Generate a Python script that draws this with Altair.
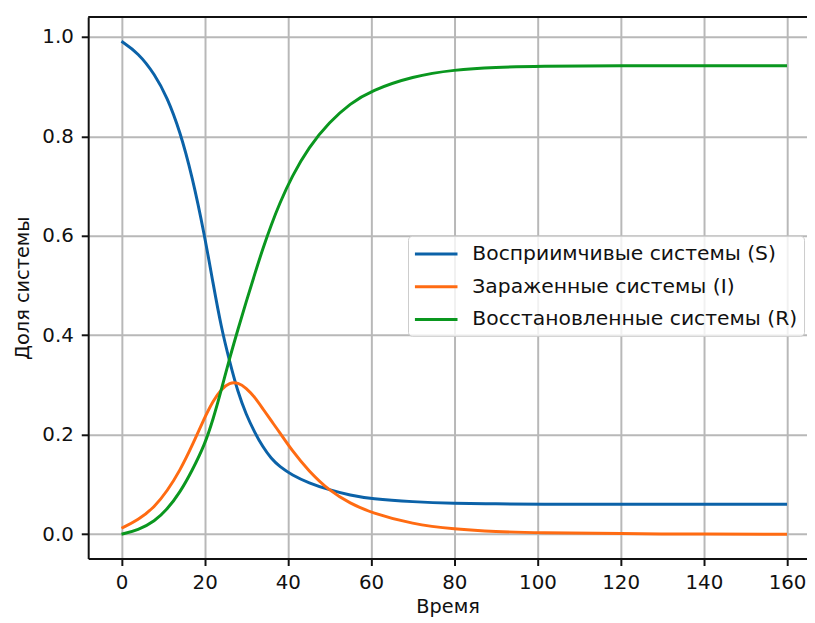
import altair as alt
import pandas as pd

time = [0, 4, 8, 11, 14, 17, 20, 22, 24, 26, 28, 30, 32, 34, 36, 38, 41, 45, 50, 55, 60, 70, 80, 90, 100, 120, 140, 160]
S_vals = [0.991, 0.968, 0.925, 0.878, 0.812, 0.720, 0.600, 0.505, 0.415, 0.347, 0.285, 0.240, 0.205, 0.175,
          0.152, 0.136, 0.119, 0.103, 0.089, 0.078, 0.071, 0.065, 0.062, 0.061, 0.060, 0.060, 0.060, 0.060]
I_vals = [0.012, 0.028, 0.055, 0.087, 0.127, 0.178, 0.235, 0.268, 0.292, 0.305, 0.305, 0.294, 0.276, 0.252,
          0.228, 0.205, 0.168, 0.127, 0.087, 0.062, 0.043, 0.020, 0.010, 0.005, 0.003, 0.001, 0.000, 0.000]
R_vals = [0.000, 0.008, 0.026, 0.050, 0.083, 0.128, 0.180, 0.230, 0.290, 0.354, 0.412, 0.468, 0.522, 0.575,
          0.622, 0.665, 0.720, 0.778, 0.829, 0.866, 0.892, 0.921, 0.934, 0.939, 0.941, 0.942, 0.942, 0.942]

series_names = ["Восприимчивые системы (S)", "Зараженные системы (I)", "Восстановленные системы (R)"]
series_colors = ["#0b62a8", "#ff6b12", "#0a971f"]
x_ticks = [0, 20, 40, 60, 80, 100, 120, 140, 160]
y_ticks = [0.0, 0.2, 0.4, 0.6, 0.8, 1.0]
x_domain = [-8, 164.8]
y_domain = [-0.049, 1.04]

rows = []
for name, vals in zip(series_names, [S_vals, I_vals, R_vals]):
    for t, v in zip(time, vals):
        rows.append({"t": t, "v": v, "series": name})
df = pd.DataFrame(rows)

FONT = "DejaVu Sans"

lines = alt.Chart(df).mark_line(strokeWidth=3, interpolate="basis", clip=True).encode(
    x=alt.X("t:Q", scale=alt.Scale(domain=x_domain, nice=False, zero=False),
            axis=alt.Axis(values=x_ticks, title="Время", format="d")),
    y=alt.Y("v:Q", scale=alt.Scale(domain=y_domain, nice=False, zero=False),
            axis=alt.Axis(values=y_ticks, title="Доля системы", format=".1f")),
    color=alt.Color("series:N",
                    scale=alt.Scale(domain=series_names, range=series_colors),
                    legend=alt.Legend(orient="none", legendX=323, legendY=221, title=None,
                                      symbolType="M-2,0L2,0", symbolStrokeWidth=3, symbolSize=462,
                                      symbolOffset=10, labelOffset=24, labelLimit=0,
                                      labelFontSize=20.5, labelFont=FONT, labelColor="#111",
                                      fillColor="rgba(255,255,255,0.8)", strokeColor="#cccccc",
                                      cornerRadius=4, padding=6, rowPadding=10)),
    order=alt.Order("t:Q"),
)

top_df = pd.DataFrame({"ytop": [y_domain[1]]})
top_rule = alt.Chart(top_df).mark_rule(color="#111", strokeWidth=2).encode(y=alt.Y("ytop:Q"))

chart = alt.layer(lines, top_rule).properties(
    width=726, height=547,
    autosize=alt.AutoSizeParams(type="none"),
    padding={"left": 81, "top": 6, "right": 0, "bottom": 60},
).configure_view(stroke=None).configure_axis(
    labelFont=FONT, titleFont=FONT, labelFontSize=20, titleFontSize=19.5,
    titleFontWeight="normal", labelColor="#111", titleColor="#111",
    domainColor="#111", domainWidth=2, tickColor="#111", tickWidth=2, tickSize=7,
    gridColor="#b8b8b8", gridWidth=2, labelPadding=7,
).configure_axisY(titlePadding=9, labelPadding=8).configure_axisX(titlePadding=5)

chart.save("out.html", embed_options={"renderer": "svg", "actions": False})
